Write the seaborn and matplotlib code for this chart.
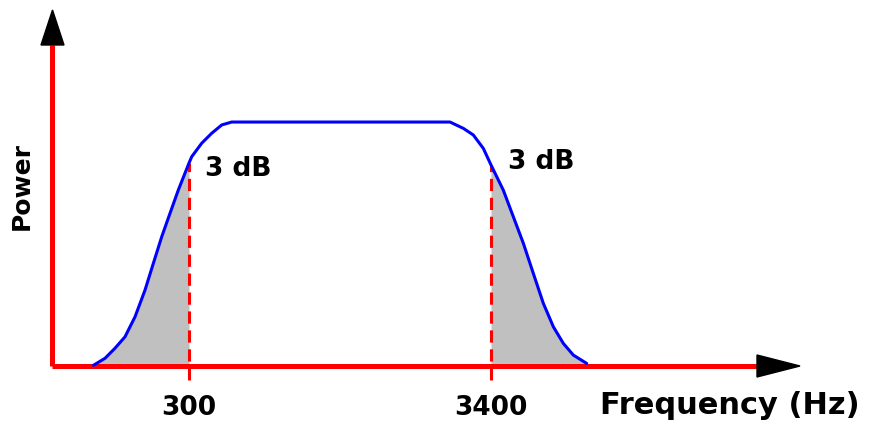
import numpy as np
import pandas as pd
import seaborn as sns
import matplotlib.pyplot as plt
from matplotlib.patches import Polygon

# schematic band-pass response (frequency in Hz, relative power)
freq = [-682, -562, -460, -357, -254, -152, -66, 20, 105, 190, 300,
        328, 430, 533, 636, 738,
        2979, 3116, 3218, 3321, 3400,
        3526, 3629, 3732, 3834, 3937, 4040, 4142, 4245, 4382]
power = [0.3, 3.2, 7.3, 12.0, 20.2, 31.1, 42.1, 53.0, 62.6, 72.1, 83.2,
         85.8, 91.3, 95.4, 98.8, 100,
         100, 97.4, 94.7, 89.2, 82.4,
         72.1, 61.2, 50.3, 38.0, 25.7, 16.1, 9.3, 4.5, 1.1]
cutoffs = [300, 3400]
cutoff_power = [83.2, 82.4]
tick_labels = ['300', '3400']

df = pd.DataFrame({'freq': freq, 'power': power})

sns.set_style('white')
plt.rcParams['font.family'] = ['DejaVu Sans']
plt.rcParams['text.color'] = 'black'

fig = plt.figure(figsize=(8.7, 4.21), dpi=100)
ax = fig.add_axes([0, 0, 1, 1])
ax.set_xlim(-1640, 7290)
ax.set_ylim(-22.5, 150)

f = np.array(freq)
p = np.array(power)
ax.fill_between(f, 0, p, where=f <= cutoffs[0], color='#c0c0c0', lw=0)
ax.fill_between(f, 0, p, where=f >= cutoffs[1], color='#c0c0c0', lw=0)

# axes (red) with black arrow heads
ax.plot([-1106, 6131], [0, 0], color='red', lw=3.6, solid_capstyle='butt', zorder=2)
ax.plot([-1106, -1106], [0, 131.6], color='red', lw=3.6, solid_capstyle='butt', zorder=2)
W, H = 870, 421
tri_up = [(41 / W, 1 - 45 / H), (64 / W, 1 - 45 / H), (52.5 / W, 1 - 10 / H)]
tri_right = [(757 / W, 1 - 355 / H), (757 / W, 1 - 377 / H), (800 / W, 1 - 366 / H)]
for tri in (tri_up, tri_right):
    ax.add_patch(Polygon(tri, closed=True, color='black', transform=ax.transAxes, zorder=3))

# cutoff markers
ax.vlines(cutoffs, -5.7, cutoff_power, colors='red', lw=2.2,
          linestyles=(0, (4, 2.2)), zorder=3)

sns.lineplot(data=df, x='freq', y='power', color='blue', lw=2.2, ax=ax,
             sort=False, zorder=4)
ax.lines[-1].set_solid_joinstyle('round')
ax.axis('off')

for c, lab in zip(cutoffs, tick_labels):
    ax.text(c, -17, lab, ha='center', va='center', fontsize=19, fontweight='bold')

ax.text(464, 80.7, '3 dB', ha='left', va='center', fontsize=19, fontweight='bold')
ax.text(3574, 83.6, '3 dB', ha='left', va='center', fontsize=19, fontweight='bold')
ax.text(4519, -16, 'Frequency (Hz)', ha='left', va='center', fontsize=22, fontweight='bold')
ax.text(-1414, 73.8, 'Power', ha='center', va='center', rotation=90,
        fontsize=18, fontweight='bold')

fig.savefig('out.png', dpi=100)
